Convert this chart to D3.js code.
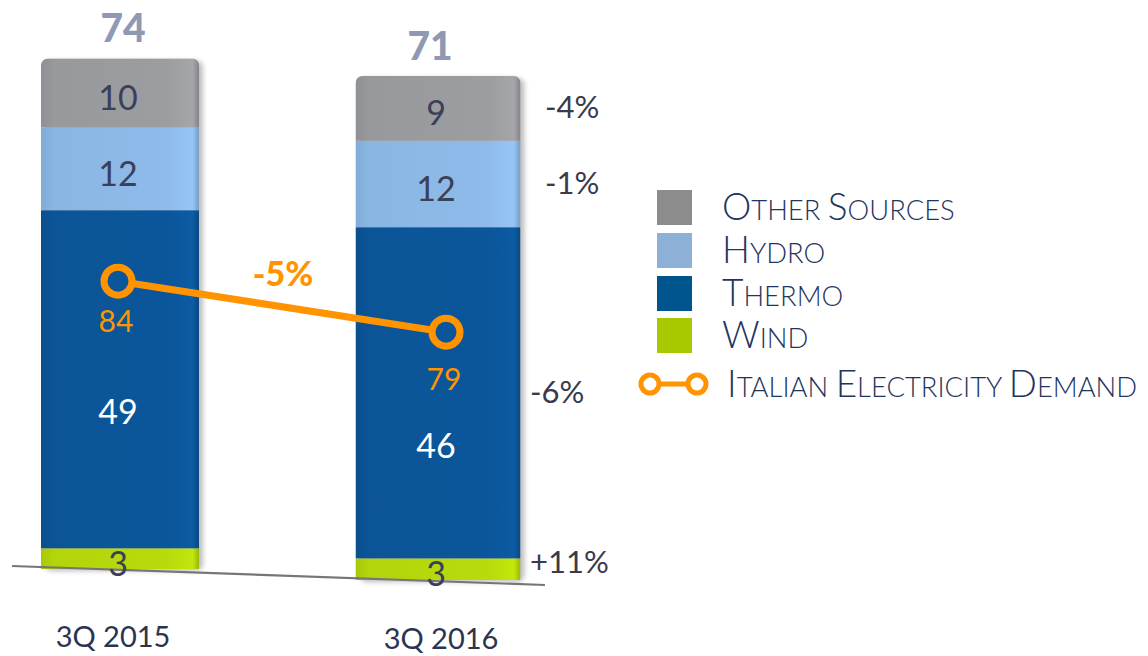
<!DOCTYPE html>
<html>
<head>
<meta charset="utf-8">
<script src="https://cdn.jsdelivr.net/npm/d3@7"></script>
<style>
  body { margin: 0; background: #fff; }
  svg { display: block; font-family: Lato, "Open Sans", sans-serif; }
</style>
</head>
<body>
<div id="chart"></div>
<script>
/* categories (quarters) */
const quarters = ["3Q 2015", "3Q 2016"];

/* stacked sources, bottom to top */
const sources = ["Wind", "Thermo", "Hydro", "Other Sources"];
const windValues = [3, 3];
const thermoValues = [49, 46];
const hydroValues = [12, 12];
const otherValues = [10, 9];

/* totals written above the bars */
const totalLabels = ["74", "71"];

/* italian electricity demand line */
const demandValues = [84, 79];
const demandChange = "-5%";

/* change of each source, 3Q 2016 vs 3Q 2015 (bottom to top) */
const sourceChanges = ["+11%", "-6%", "-1%", "-4%"];

/* legend, top to bottom */
const legendLabels = ["Other Sources", "Hydro", "Thermo", "Wind", "Italian Electricity Demand"];

const width = 1148, height = 656;

const barColor = {
  "Other Sources": "#9c9da1",
  "Hydro": "#8ebbea",
  "Thermo": "#0b569b",
  "Wind": "#b7db0b"
};
const legendColor = {
  "Other Sources": "#8c8c8c",
  "Hydro": "#8db0d6",
  "Thermo": "#00558c",
  "Wind": "#a8c800"
};
const orange = "#ff9400";
const navy = "#1f3560";
const labelDark = "#3b3f58";

/* a little perspective: each bar has its own base line and pixels per unit */
const barBase = [569, 580];
const barUnit = [6.9, 7.2];
const barWidth = [158, 165];
/* the white thermo labels sit below the middle of the segment */
const thermoLabelShift = [33, 53];

const svg = d3.select("#chart").append("svg")
  .attr("width", width)
  .attr("height", height);

const defs = svg.append("defs");

const x = d3.scalePoint().domain(quarters).range([120, 438]);

const yScales = quarters.map((q, i) =>
  d3.scaleLinear().domain([0, 10]).range([barBase[i], barBase[i] - 10 * barUnit[i]]));

const valuesBySource = {
  "Wind": windValues,
  "Thermo": thermoValues,
  "Hydro": hydroValues,
  "Other Sources": otherValues
};

const rows = quarters.map((q, i) => {
  const r = { quarter: q };
  sources.forEach(s => r[s] = valuesBySource[s][i]);
  return r;
});
const stacked = d3.stack().keys(sources)(rows);
const topOf = i => yScales[i](stacked[stacked.length - 1][i][1]);

/* horizontal gradients for a rounded 3d look */
sources.forEach((s, k) => {
  const c = d3.color(barColor[s]);
  const g = defs.append("linearGradient")
    .attr("id", "grad" + k)
    .attr("x1", 0).attr("x2", 1).attr("y1", 0).attr("y2", 0);
  g.append("stop").attr("offset", "0%").attr("stop-color", c.darker(0.25));
  g.append("stop").attr("offset", "8%").attr("stop-color", c.darker(0.08));
  g.append("stop").attr("offset", "80%").attr("stop-color", c);
  g.append("stop").attr("offset", "96%").attr("stop-color", c.brighter(0.15));
  g.append("stop").attr("offset", "100%").attr("stop-color", c.darker(0.5));
});

const blur = defs.append("filter").attr("id", "shadow")
  .attr("x", "-10%").attr("y", "-10%").attr("width", "130%").attr("height", "120%");
blur.append("feGaussianBlur").attr("stdDeviation", 2.5);

/* clip each bar to a shape with rounded top corners */
quarters.forEach((q, i) => {
  defs.append("clipPath").attr("id", "clip" + i)
    .append("rect")
    .attr("x", x(q) - barWidth[i] / 2)
    .attr("y", topOf(i))
    .attr("width", barWidth[i])
    .attr("height", barBase[i] - topOf(i) + 10)
    .attr("rx", 7);
});

/* soft shadow on the right side of the bars */
svg.append("g").selectAll("rect")
  .data(quarters)
  .join("rect")
    .attr("x", (q, i) => x(q) - barWidth[i] / 2 + 4)
    .attr("y", (q, i) => topOf(i) + 2)
    .attr("width", (q, i) => barWidth[i])
    .attr("height", (q, i) => barBase[i] - topOf(i))
    .attr("rx", 7)
    .attr("fill", "#000")
    .attr("opacity", 0.25)
    .attr("filter", "url(#shadow)");

/* stacked segments */
const bars = svg.append("g");
stacked.forEach((layer, k) => {
  bars.append("g").selectAll("rect")
    .data(layer)
    .join("rect")
      .attr("clip-path", (d, i) => "url(#clip" + i + ")")
      .attr("x", (d, i) => x(quarters[i]) - barWidth[i] / 2)
      .attr("y", (d, i) => yScales[i](d[1]))
      .attr("width", (d, i) => barWidth[i])
      .attr("height", (d, i) => yScales[i](d[0]) - yScales[i](d[1]))
      .attr("fill", "url(#grad" + k + ")");
});

/* base line, slightly tilted */
svg.append("line")
  .attr("x1", 12).attr("y1", 566)
  .attr("x2", 545).attr("y2", 585)
  .attr("stroke", "#767676")
  .attr("stroke-width", 2.2);

/* segment value labels */
const segLabels = svg.append("g").attr("text-anchor", "middle");
stacked.forEach((layer, k) => {
  const s = sources[k];
  segLabels.append("g").selectAll("text")
    .data(layer)
    .join("text")
      .attr("x", (d, i) => x(quarters[i]) - 2)
      .attr("y", (d, i) => {
        const mid = (yScales[i](d[0]) + yScales[i](d[1])) / 2;
        if (s === "Wind") return mid + 17;
        if (s === "Thermo") return mid + 12 + thermoLabelShift[i];
        return mid + 17;
      })
      .attr("font-size", 34)
      .attr("fill", s === "Thermo" ? "#ffffff" : labelDark)
      .text(d => d.data[s]);
});

/* totals */
svg.append("g").selectAll("text")
  .data(totalLabels)
  .join("text")
    .attr("x", (t, i) => x(quarters[i]) + [3, -8][i])
    .attr("y", (t, i) => topOf(i) - 16)
    .attr("text-anchor", "middle")
    .attr("font-size", 39)
    .attr("font-weight", 900)
    .attr("fill", "#8f99b4")
    .text(t => t);

/* change of each source, right of the second bar */
const last = quarters.length - 1;
svg.append("g").selectAll("text")
  .data(sourceChanges)
  .join("text")
    .attr("x", (t, k) => k < 2 ? 530 : 545)
    .attr("y", (t, k) => {
      const d = stacked[k][last];
      return (yScales[last](d[0]) + yScales[last](d[1])) / 2 + 10 + (k === 0 ? -6 : 0);
    })
    .attr("font-size", 31)
    .attr("fill", "#3a3a4a")
    .text(t => t);

/* demand line, on its own scale */
const yDemand = d3.scaleLinear().domain([70, 90]).range([424, 220]);
const demandX = [118, 446];
const demandLabelShift = [51, 58];

svg.append("path")
  .datum(demandValues)
  .attr("d", d3.line().x((d, i) => demandX[i]).y(d => yDemand(d)))
  .attr("fill", "none")
  .attr("stroke", orange)
  .attr("stroke-width", 7);

svg.append("g").selectAll("circle")
  .data(demandValues)
  .join("circle")
    .attr("cx", (d, i) => demandX[i])
    .attr("cy", d => yDemand(d))
    .attr("r", 14)
    .attr("fill", barColor["Thermo"])
    .attr("stroke", orange)
    .attr("stroke-width", 7);

svg.append("g").selectAll("text")
  .data(demandValues)
  .join("text")
    .attr("x", (d, i) => demandX[i] - 2)
    .attr("y", (d, i) => yDemand(d) + demandLabelShift[i])
    .attr("text-anchor", "middle")
    .attr("font-size", 30)
    .attr("fill", orange)
    .text(d => d);

svg.append("text")
  .attr("x", 283)
  .attr("y", 286)
  .attr("text-anchor", "middle")
  .attr("font-size", 34)
  .attr("font-weight", 900)
  .attr("fill", orange)
  .text(demandChange);

/* quarter labels */
svg.append("g").selectAll("text")
  .data(quarters)
  .join("text")
    .attr("x", (q, i) => [113, 441][i])
    .attr("y", (q, i) => [647, 649][i])
    .attr("text-anchor", "middle")
    .attr("font-size", 29)
    .attr("fill", "#2c3350")
    .text(q => q);

/* legend */
const legend = svg.append("g");
const legendRowY = [207, 250, 293, 335, 384];

function smallCaps(sel, label, big, small) {
  label.split(" ").forEach((w, j) => {
    if (j > 0) sel.append("tspan").attr("font-size", small).text(" ");
    sel.append("tspan").attr("font-size", big).text(w[0].toUpperCase());
    sel.append("tspan").attr("font-size", small).text(w.slice(1).toUpperCase());
  });
}

legendLabels.forEach((label, i) => {
  const cy = legendRowY[i];
  if (i < 4) {
    legend.append("rect")
      .attr("x", 657).attr("y", cy - 17)
      .attr("width", 35).attr("height", 35)
      .attr("fill", legendColor[label]);
  } else {
    legend.append("line")
      .attr("x1", 650).attr("x2", 697)
      .attr("y1", cy).attr("y2", cy)
      .attr("stroke", orange).attr("stroke-width", 5);
    legend.selectAll(null)
      .data([650, 697])
      .join("circle")
        .attr("cx", d => d).attr("cy", cy).attr("r", 9)
        .attr("fill", "#fff")
        .attr("stroke", orange).attr("stroke-width", 5);
  }
  const t = legend.append("text")
    .attr("x", i < 4 ? 722 : 727)
    .attr("y", cy + 13)
    .attr("fill", navy)
    .attr("font-weight", 300);
  smallCaps(t, label, 37, 27.4);
});
</script>
</body>
</html>
